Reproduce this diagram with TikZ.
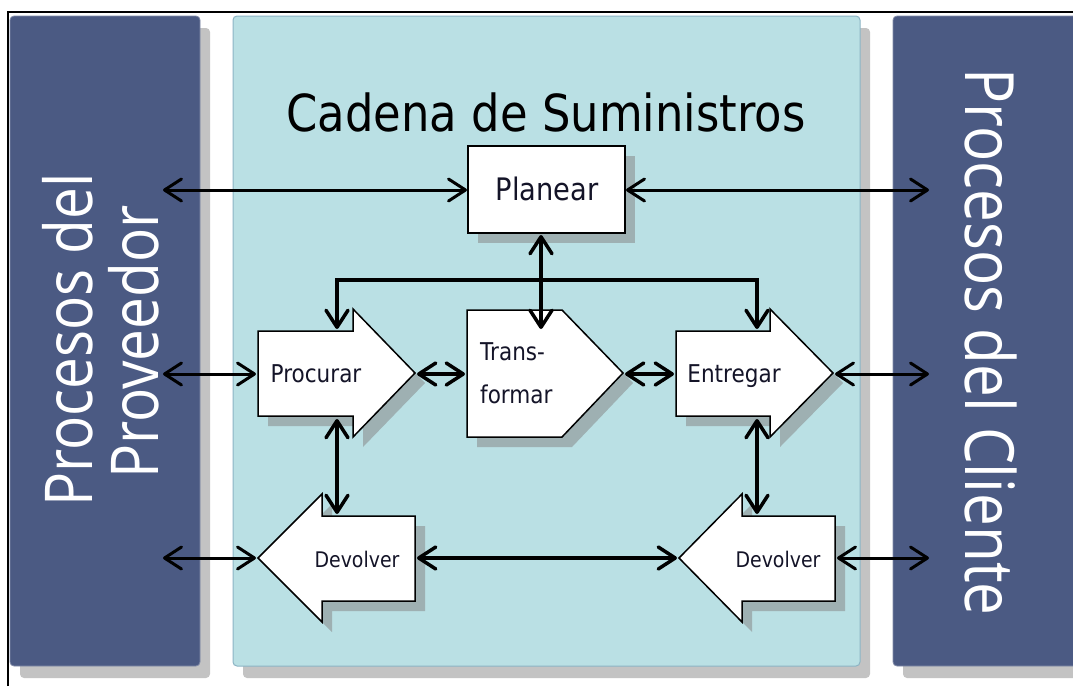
\documentclass[tikz,border=0pt]{standalone}
\usepackage{fontspec}
\setmainfont{DejaVu Sans}
\newfontfamily\tah[FakeStretch=0.88]{DejaVu Sans}
\newfontfamily\pan[FakeStretch=0.86]{Open Sans}
\usetikzlibrary{arrows.meta}
\definecolor{darkpanel}{RGB}{75,90,131}
\definecolor{lightpanel}{RGB}{186,224,228}
\definecolor{lightborder}{RGB}{140,180,196}
\definecolor{panshadow}{RGB}{195,195,195}
\definecolor{boxshadow}{RGB}{158,176,178}
\definecolor{labelink}{RGB}{20,20,40}
\tikzset{
  barb/.tip={Straight Barb[length=17pt,width=22pt,round]},
  link/.style={line width=3.5pt, line cap=round, barb-barb},
  outlink/.style={line width=3pt, line cap=round, barb-barb},
  panelbox/.style={fill=darkpanel, draw=darkpanel!70!white, line width=0.8pt, rounded corners=4pt},
  midbox/.style={fill=lightpanel, draw=lightborder, line width=1pt, rounded corners=4pt},
  pshadow/.style={fill=panshadow, rounded corners=4pt},
  bshadow/.style={fill=boxshadow},
  shapebox/.style={fill=white, draw=black, line width=1.5pt, line join=miter},
  lbl/.style={text=labelink, inner sep=0pt, anchor=base},
  paneltext/.style={text=white, inner sep=0pt, anchor=base}
}
\begin{document}
\begin{tikzpicture}[x=1pt,y=-1pt]
\useasboundingbox (0,0) rectangle (1073,686);
\fill[white] (0,0) rectangle (1073,686);
% frame
\draw[line width=2pt] (8,686) -- (8,12) -- (1073,12);
% panel shadows
\fill[pshadow] (20,28) rectangle (210,678);
\fill[pshadow] (243,28) rectangle (870,678);
\fill[pshadow] (903,28) rectangle (1095,678);
% panels
\draw[panelbox] (10,16) rectangle (200,666);
\draw[midbox] (233,16) rectangle (860,666);
\draw[panelbox] (893,16) rectangle (1090,666);
% panel texts
\node[paneltext, rotate=90, font=\pan\fontsize{66}{70}\selectfont] (prov1) at (92,340) {Procesos del};
\node[paneltext, rotate=90, font=\pan\fontsize{66}{70}\selectfont] (prov2) at (158,342) {Proveedor};
\node[paneltext, rotate=-90, font=\pan\fontsize{68}{72}\selectfont] (cli) at (965,342) {Procesos del Cliente};
% title
\node[lbl, text=black, font=\tah\fontsize{51}{56}\selectfont] (title) at (546,131) {Cadena de Suministros};
% shadows of shapes
\begin{scope}[shift={(10,10)}]
\fill[bshadow] (468,146) rectangle (625,233);
\fill[bshadow] (258,331) -- (353,331) -- (353,309) -- (415,373) -- (353,437) -- (353,416) -- (258,416) -- cycle;
\fill[bshadow] (467,310) -- (562,310) -- (623,373) -- (562,437) -- (467,437) -- cycle;
\fill[bshadow] (676,331) -- (770,331) -- (770,309) -- (833,373) -- (770,437) -- (770,416) -- (676,416) -- cycle;
\fill[bshadow] (258,558) -- (322,494) -- (322,516) -- (415,516) -- (415,601) -- (322,601) -- (322,622) -- cycle;
\fill[bshadow] (679,558) -- (742,494) -- (742,516) -- (835,516) -- (835,601) -- (742,601) -- (742,622) -- cycle;
\end{scope}
% shapes
\draw[shapebox] (468,146) rectangle (625,233);
\draw[shapebox] (258,331) -- (353,331) -- (353,309) -- (415,373) -- (353,437) -- (353,416) -- (258,416) -- cycle;
\draw[shapebox] (467,310) -- (562,310) -- (623,373) -- (562,437) -- (467,437) -- cycle;
\draw[shapebox] (676,331) -- (770,331) -- (770,309) -- (833,373) -- (770,437) -- (770,416) -- (676,416) -- cycle;
\draw[shapebox] (258,558) -- (322,494) -- (322,516) -- (415,516) -- (415,601) -- (322,601) -- (322,622) -- cycle;
\draw[shapebox] (679,558) -- (742,494) -- (742,516) -- (835,516) -- (835,601) -- (742,601) -- (742,622) -- cycle;
% labels
\node[lbl, font=\tah\fontsize{31}{36}\selectfont] (planear) at (547,200) {Planear};
\node[lbl, font=\tah\fontsize{24.5}{29}\selectfont] (procurar) at (316,382) {Procurar};
\node[lbl, anchor=base west, font=\tah\fontsize{24.5}{29}\selectfont] (trans1) at (480,360) {Trans-};
\node[lbl, anchor=base west, font=\tah\fontsize{24.5}{29}\selectfont] (trans2) at (480,403) {formar};
\node[lbl, font=\tah\fontsize{24.5}{29}\selectfont] (entregar) at (734,382) {Entregar};
\node[lbl, font=\tah\fontsize{21.5}{26}\selectfont] (devL) at (357,567) {Devolver};
\node[lbl, font=\tah\fontsize{21.5}{26}\selectfont] (devR) at (778,567) {Devolver};
% anchor coordinates
\coordinate (PLw) at (467,190);
\coordinate (PLe) at (626,190);
\coordinate (PLs) at (541,235);
\coordinate (TRtop) at (541,329);
\coordinate (PRn) at (337,329);
\coordinate (ENn) at (757,329);
\coordinate (jL) at (337,280);
\coordinate (jR) at (757,280);
\coordinate (PRw) at (256,374);
\coordinate (PRtip) at (417,374);
\coordinate (TRw) at (465,374);
\coordinate (TRtip) at (625,374);
\coordinate (ENw) at (674,374);
\coordinate (ENtip) at (835,374);
\coordinate (PRs) at (337,419);
\coordinate (ENs) at (757,419);
\coordinate (DLn) at (337,514);
\coordinate (DRn) at (757,514);
\coordinate (DLtip) at (256,558);
\coordinate (DLe) at (417,558);
\coordinate (DRtip) at (677,558);
\coordinate (DRe) at (837,558);
\coordinate (L1) at (163,190);
\coordinate (R1) at (929,190);
\coordinate (L2) at (163,374);
\coordinate (R2) at (929,374);
\coordinate (L3) at (163,558);
\coordinate (R3) at (929,558);
% connectors
\draw[outlink] (L1) -- (PLw);
\draw[outlink] (PLe) -- (R1);
\draw[link] (PRn) -- (jL) -- (jR) -- (ENn);
\draw[link] (PLs) -- (TRtop);
\draw[outlink] (L2) -- (PRw);
\draw[link] (PRtip) -- (TRw);
\draw[link] (TRtip) -- (ENw);
\draw[outlink] (ENtip) -- (R2);
\draw[link] (PRs) -- (DLn);
\draw[link] (ENs) -- (DRn);
\draw[outlink] (L3) -- (DLtip);
\draw[link] (DLe) -- (DRtip);
\draw[outlink] (DRe) -- (R3);
\end{tikzpicture}
\end{document}
